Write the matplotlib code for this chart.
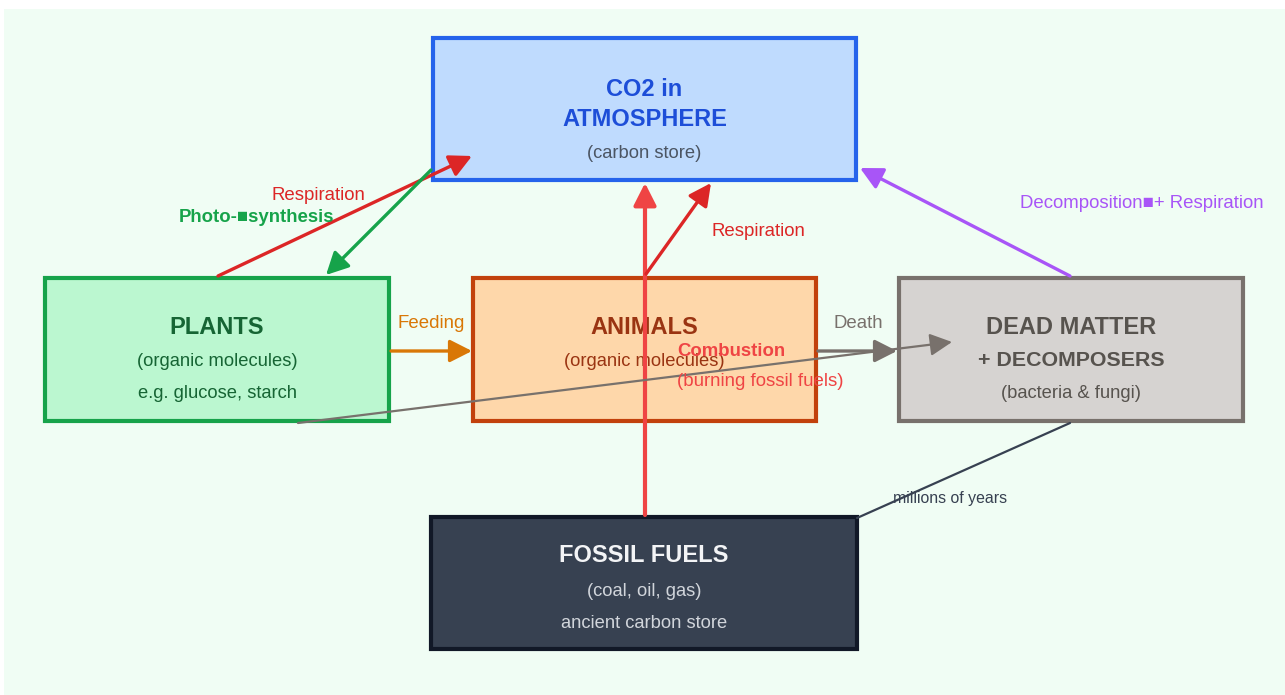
import matplotlib
matplotlib.use("Agg")
import matplotlib.pyplot as plt
from matplotlib.patches import Rectangle, FancyArrowPatch

plt.rcParams['font.family'] = ['Liberation Sans', 'DejaVu Sans']

# boxes of the carbon cycle: title lines, sub lines
box_names = ["co2", "plants", "animals", "dead", "fossil"]
box_titles = [["CO2 in", "ATMOSPHERE"], ["PLANTS"], ["ANIMALS"],
              ["DEAD MATTER", "+ DECOMPOSERS"], ["FOSSIL FUELS"]]
box_subs = [["(carbon store)"], ["(organic molecules)", "e.g. glucose, starch"],
            ["(organic molecules)"], ["(bacteria & fungi)"],
            ["(coal, oil, gas)", "ancient carbon store"]]

# flows between the stores
flow_labels = ["Respiration", "Photo-\u25a0synthesis", "Respiration",
               "Decomposition\u25a0+ Respiration", "Feeding", "Death",
               "millions of years"]
combustion_label = ["Combustion", "(burning fossil fuels)"]

# layout in pixels (x0, y0, x1, y1)
box_rect = {
    "co2": (431, 36, 858, 182),
    "plants": (43, 276, 391, 423),
    "animals": (471, 276, 818, 423),
    "dead": (897, 276, 1245, 423),
    "fossil": (429, 515, 859, 651),
}
box_style = {
    "co2": ("#bfdbfe", "#2563eb", "#1d4ed8", "#4b5563"),
    "plants": ("#bbf7d0", "#16a34a", "#166534", "#166534"),
    "animals": ("#fed7aa", "#c2410c", "#9a3412", "#9a3412"),
    "dead": ("#d6d3d1", "#78716c", "#57534e", "#57534e"),
    "fossil": ("#374151", "#111827", "#f3f4f6", "#d1d5db"),
}
title_y = {"co2": [88, 119], "plants": [327], "animals": [327],
           "dead": [327, 359], "fossil": [555]}
title_size = {"co2": [17, 17], "plants": [17], "animals": [17],
              "dead": [17, 15.4], "fossil": [17]}
sub_y = {"co2": [153], "plants": [361, 393], "animals": [361],
         "dead": [393], "fossil": [590, 622]}

fig = plt.figure(figsize=(12.85, 6.95), dpi=100)
ax = fig.add_axes([0, 0, 1, 1])
ax.set_xlim(0, 1285)
ax.set_ylim(695, 0)
ax.axis('off')

ax.add_patch(Rectangle((4, 9), 1285, 690, facecolor="#f0fdf4", edgecolor="none", zorder=0))

for i, name in enumerate(box_names):
    x0, y0, x1, y1 = box_rect[name]
    fill, edge, tcol, scol = box_style[name]
    ax.add_patch(Rectangle((x0 + 2, y0 + 2), x1 - x0 - 4, y1 - y0 - 4,
                           facecolor=fill, edgecolor=edge, lw=3, zorder=1))
    cx = (x0 + x1) / 2
    for t, y, fs in zip(box_titles[i], title_y[name], title_size[name]):
        ax.text(cx, y + 1, t, ha='center', va='center', fontsize=fs,
                fontweight='bold', color=tcol, zorder=2)
    for t, y in zip(box_subs[i], sub_y[name]):
        ax.text(cx, y + 1, t, ha='center', va='center', fontsize=13.2,
                color=scol, zorder=2)


def arrow(p0, p1, color, lw, head=True):
    style = '-|>,head_length=0.75,head_width=0.38' if head else '-'
    a = FancyArrowPatch(p0, p1, arrowstyle=style, mutation_scale=18,
                        color=color, lw=lw, shrinkA=0, shrinkB=0, zorder=3)
    ax.add_patch(a)


arrow((218, 276), (472, 156), "#dc2626", 2.4)
arrow((431, 170), (326, 275), "#16a34a", 2.4)
arrow((645, 515), (645, 183), "#ef4444", 3.0)
arrow((646, 274), (711, 183), "#dc2626", 2.4)
arrow((1070, 276), (860, 168), "#a855f7", 2.4)
arrow((391, 351), (472, 351), "#d97706", 2.4)
arrow((818, 351), (897, 351), "#78716c", 2.4)
arrow((298, 423), (952, 342), "#78716c", 1.6)
arrow((1070, 423), (857, 518), "#374151", 1.6, head=False)

lab = 13.4
ax.text(318, 196, flow_labels[0], ha='center', va='center', fontsize=lab, color="#dc2626", zorder=4)
ax.text(257, 217, flow_labels[1], ha='center', va='center', fontsize=lab,
        fontweight='bold', color="#16a34a", zorder=4)
ax.text(758, 231, flow_labels[2], ha='center', va='center', fontsize=lab, color="#dc2626", zorder=4)
ax.text(1142, 204, flow_labels[3], ha='center', va='center', fontsize=lab, color="#a855f7", zorder=4)
ax.text(431, 324, flow_labels[4], ha='center', va='center', fontsize=lab, color="#d97706", zorder=4)
ax.text(858, 324, flow_labels[5], ha='center', va='center', fontsize=lab, color="#78716c", zorder=4)
ax.text(893, 498, flow_labels[6], ha='left', va='center', fontsize=11.4, color="#374151", zorder=4)
ax.text(677, 351, combustion_label[0], ha='left', va='center', fontsize=lab,
        fontweight='bold', color="#ef4444", zorder=4)
ax.text(677, 382, combustion_label[1], ha='left', va='center', fontsize=lab, color="#ef4444", zorder=4)

fig.savefig("out.png", dpi=100, facecolor="white")
